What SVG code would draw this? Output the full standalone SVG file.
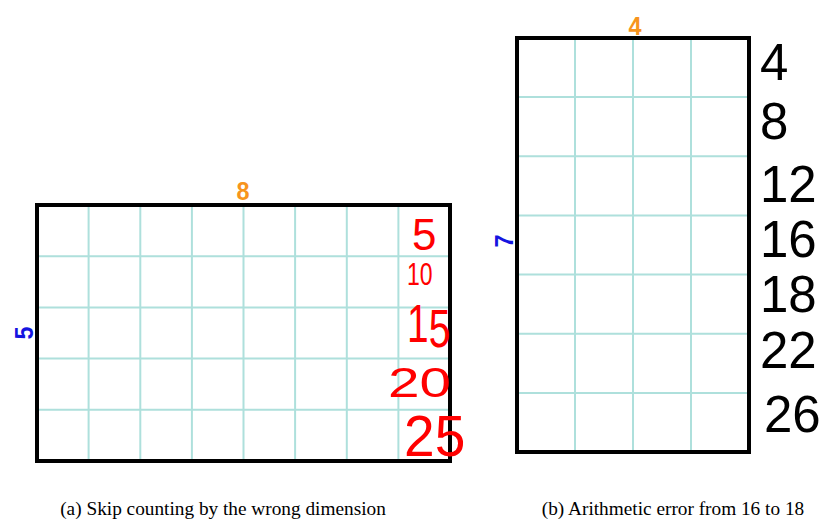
<svg xmlns="http://www.w3.org/2000/svg" width="838" height="523" viewBox="0 0 838 523">
<style>
.grid{stroke:#aee0dc;stroke-width:2;fill:none}
.frame{stroke:#000;stroke-width:4;fill:none}
.dimT{font-family:"Liberation Sans",Arial,sans-serif;font-weight:bold;font-size:26px;fill:#f7941d;text-anchor:middle}
.dimS{font-family:"Liberation Sans",Arial,sans-serif;font-weight:bold;font-size:26px;fill:#1515e0;text-anchor:middle}
.red{font-family:"Liberation Sans",Arial,sans-serif;fill:#ff0000}
.blk{font-family:"Liberation Sans",Arial,sans-serif;font-size:51px;fill:#000}
.cap{font-family:"Liberation Serif","Times New Roman",serif;font-size:19.3px;fill:#000;text-anchor:middle}
</style>
<rect width="838" height="523" fill="#fff"/>

<g id="grid-a">
  <g class="grid">
    <path d="M88.6 205V461M140.3 205V461M191.9 205V461M243.5 205V461M295.1 205V461M346.8 205V461M398.4 205V461"/>
    <path d="M37 256.2H450M37 307.4H450M37 358.6H450M37 409.8H450"/>
  </g>
  <rect class="frame" x="37" y="205" width="413" height="256"/>
  <text class="dimT" transform="translate(243 200) scale(0.9 1)">8</text>
  <text class="dimS" transform="translate(33 333) rotate(-90) scale(0.9 1)">5</text>
</g>

<g id="counts-a">
  <text class="red" font-size="44" x="412" y="250">5</text>
  <text class="red" font-size="32" transform="translate(407 285) scale(0.72 1)">10</text>
  <text class="red" font-size="54" transform="translate(407 342) scale(0.72 1)">1<tspan dy="5">5</tspan></text>
  <text class="red" font-size="42" transform="translate(388 397) scale(1.35 1)">20</text>
  <text class="red" font-size="58" transform="translate(404 456) scale(0.95 1)">25</text>
</g>

<g id="grid-b">
  <g class="grid">
    <path d="M575 38V452M633 38V452M691 38V452"/>
    <path d="M517 97.1H749M517 156.3H749M517 215.4H749M517 274.6H749M517 333.7H749M517 392.9H749"/>
  </g>
  <rect class="frame" x="517" y="38" width="232" height="414"/>
  <text class="dimT" transform="translate(635 35) scale(0.9 1)">4</text>
  <text class="dimS" transform="translate(513 241) rotate(-90) scale(0.9 1)">7</text>
</g>

<g id="counts-b">
  <text class="blk" x="760" y="80">4</text>
  <text class="blk" x="760" y="139">8</text>
  <text class="blk" x="760" y="202">12</text>
  <text class="blk" x="760" y="257">16</text>
  <text class="blk" x="760" y="312">18</text>
  <text class="blk" x="760" y="368">22</text>
  <text class="blk" x="764" y="432">26</text>
</g>

<g id="captions">
  <text class="cap" x="223" y="515">(a) Skip counting by the wrong dimension</text>
  <text class="cap" x="673" y="515">(b) Arithmetic error from 16 to 18</text>
</g>
</svg>
